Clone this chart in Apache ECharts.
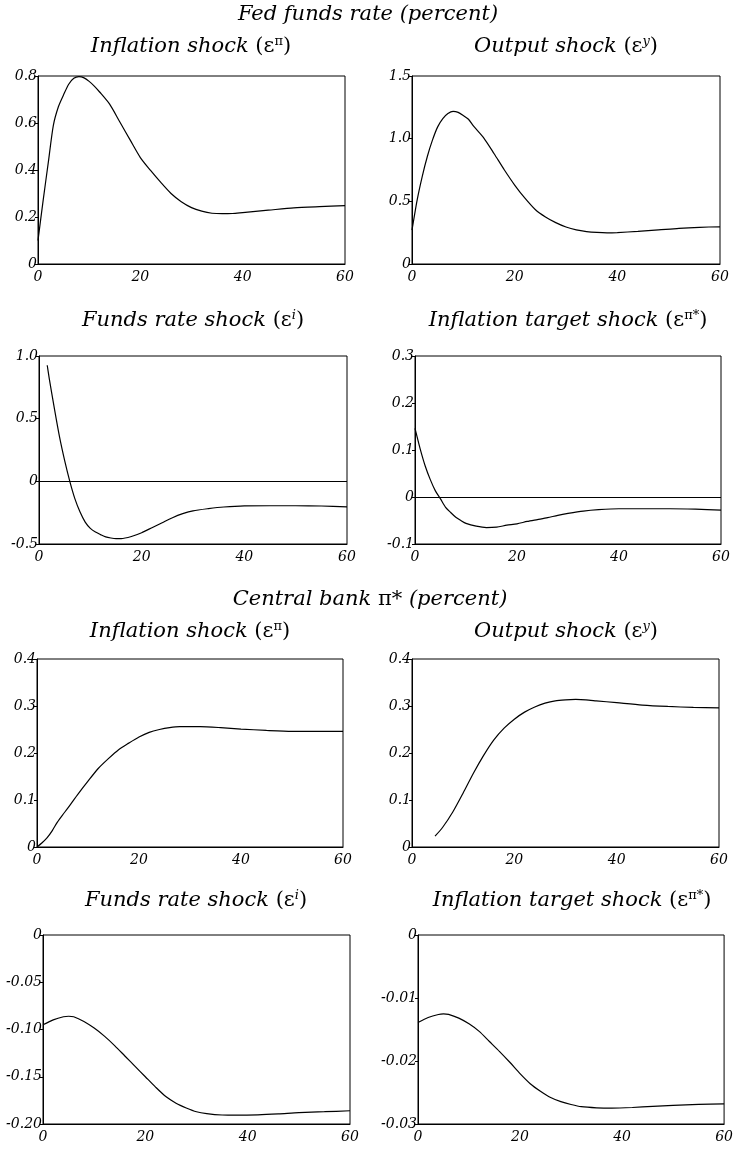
<!DOCTYPE html>
<html>
<head>
<meta charset="utf-8">
<script src="https://cdn.jsdelivr.net/npm/echarts@6/dist/echarts.min.js"></script>
<style>
html,body{margin:0;padding:0;background:#fff;}
#chart{width:736px;height:1150px;}
</style>
</head>
<body>
<div id="chart"></div>
<script>
// ---- Data ----
const xTickLabels = ['0', '20', '40', '60'];

// Fed funds rate (percent)
const ffInflX = [0,1,2,3,4,5,6,7,8,9,10,11,12,14,16,18,20,22,24,26,28,30,32,34,36,38,40,45,50,55,60];
const ffInflY = [0.10,0.27,0.43,0.59,0.67,0.72,0.765,0.79,0.797,0.792,0.777,0.757,0.733,0.68,0.604,0.528,0.453,0.398,0.347,0.30,0.265,0.24,0.225,0.216,0.214,0.215,0.219,0.229,0.239,0.244,0.248];
const ffOutX = [0,1,2,3,4,5,6,7,8,9,10,11,12,14,16,18,20,22,24,26,28,30,32,34,36,38,40,44,48,52,56,60];
const ffOutY = [0.27,0.51,0.70,0.86,0.99,1.094,1.16,1.20,1.218,1.21,1.185,1.155,1.10,1.005,0.88,0.75,0.63,0.525,0.435,0.375,0.33,0.295,0.272,0.259,0.252,0.249,0.251,0.26,0.272,0.285,0.293,0.297];
const ffFundsX = [1.6,2,3,4,5,6,7,8,9,10,11,12,13,14,15,16,18,20,22,24,26,28,30,33,36,40,45,50,55,60];
const ffFundsY = [0.926,0.82,0.58,0.354,0.165,0.0,-0.14,-0.245,-0.325,-0.375,-0.405,-0.425,-0.443,-0.452,-0.457,-0.457,-0.44,-0.41,-0.37,-0.33,-0.29,-0.258,-0.235,-0.218,-0.205,-0.196,-0.195,-0.195,-0.197,-0.203];
const ffTargetX = [0,1,2,3,4,5,6,7,8,9,10,12,14,16,18,20,22,24,26,28,30,33,36,40,45,50,55,60];
const ffTargetY = [0.146,0.103,0.066,0.037,0.013,-0.004,-0.022,-0.033,-0.043,-0.05,-0.056,-0.062,-0.065,-0.064,-0.06,-0.057,-0.052,-0.048,-0.044,-0.039,-0.035,-0.03,-0.027,-0.025,-0.025,-0.025,-0.026,-0.028];

// Central bank pi* (percent)
const cbInflX = [0,1,2,3,4,5,6,7,8,10,12,14,16,18,20,22,24,26,28,30,32,36,40,45,50,55,60];
const cbInflY = [0,0.009,0.02,0.035,0.053,0.068,0.082,0.097,0.112,0.14,0.167,0.188,0.207,0.221,0.234,0.244,0.25,0.254,0.256,0.256,0.256,0.254,0.251,0.248,0.246,0.246,0.246];
const cbOutX = [4.5,6,8,10,12,14,16,18,20,22,24,26,28,30,32,34,36,40,45,50,55,60];
const cbOutY = [0.023,0.042,0.075,0.115,0.157,0.195,0.228,0.253,0.272,0.287,0.298,0.306,0.311,0.313,0.314,0.313,0.311,0.307,0.302,0.299,0.297,0.296];
const cbFundsX = [0,2,4,5,6,8,10,12,14,16,18,20,22,24,26,28,30,32,35,38,42,46,50,55,60];
const cbFundsY = [-0.095,-0.0898,-0.0865,-0.086,-0.0865,-0.0915,-0.0985,-0.107,-0.117,-0.128,-0.139,-0.15,-0.161,-0.171,-0.178,-0.183,-0.187,-0.189,-0.1905,-0.1907,-0.1903,-0.1893,-0.188,-0.187,-0.186];
const cbTargetX = [0,2,4,5,6,8,10,12,14,16,18,20,22,24,26,28,30,32,35,38,42,46,50,55,60];
const cbTargetY = [-0.0139,-0.0131,-0.01262,-0.01253,-0.0126,-0.0132,-0.0141,-0.0153,-0.0169,-0.0185,-0.0202,-0.0220,-0.0236,-0.0248,-0.0258,-0.02645,-0.0269,-0.02725,-0.02743,-0.02748,-0.02738,-0.0272,-0.02703,-0.0269,-0.02682];

// Y tick labels per panel
const yTicks1 = ['0','0.2','0.4','0.6','0.8'];
const yTicks2 = ['0','0.5','1.0','1.5'];
const yTicks3 = ['-0.5','0','0.5','1.0'];
const yTicks4 = ['-0.1','0','0.1','0.2','0.3'];
const yTicks5 = ['0','0.1','0.2','0.3','0.4'];
const yTicks6 = ['0','0.1','0.2','0.3','0.4'];
const yTicks7 = ['-0.20','-0.15','-0.10','-0.05','0'];
const yTicks8 = ['-0.03','-0.02','-0.01','0'];

// ---- Layout ----
const panels = [
  {x: ffInflX, y: ffInflY, ticks: yTicks1, interval: 0.2, zero: false, grid: {left: 38, top: 76, width: 307, height: 188}},
  {x: ffOutX, y: ffOutY, ticks: yTicks2, interval: 0.5, zero: false, grid: {left: 412, top: 76, width: 308, height: 188}},
  {x: ffFundsX, y: ffFundsY, ticks: yTicks3, interval: 0.5, zero: true, grid: {left: 39, top: 356, width: 308, height: 188}},
  {x: ffTargetX, y: ffTargetY, ticks: yTicks4, interval: 0.1, zero: true, grid: {left: 415, top: 356, width: 306, height: 188}},
  {x: cbInflX, y: cbInflY, ticks: yTicks5, interval: 0.1, zero: false, grid: {left: 37, top: 659, width: 306, height: 188}},
  {x: cbOutX, y: cbOutY, ticks: yTicks6, interval: 0.1, zero: false, grid: {left: 412, top: 659, width: 307, height: 188}},
  {x: cbFundsX, y: cbFundsY, ticks: yTicks7, interval: 0.05, zero: false, grid: {left: 43, top: 935, width: 307, height: 189}},
  {x: cbTargetX, y: cbTargetY, ticks: yTicks8, interval: 0.01, zero: false, grid: {left: 418, top: 935, width: 308, height: 189}}
];

const SERIF = "'DejaVu Serif', serif";
const labelStyle = {color: '#000', fontFamily: SERIF, fontStyle: 'italic', fontSize: 14};

function labelFor(ticks) {
  return function (v) {
    for (const t of ticks) { if (Math.abs(parseFloat(t) - v) < 1e-9) return t; }
    return '';
  };
}

const grids = [], xAxes = [], yAxes = [], series = [];
panels.forEach((p, i) => {
  grids.push(Object.assign({show: true, borderColor: '#000', borderWidth: 1, backgroundColor: 'transparent'}, p.grid));
  xAxes.push({
    type: 'value', gridIndex: i, min: 0, max: 60, interval: 20,
    axisLine: {show: true, onZero: false, lineStyle: {color: '#000', width: 1}},
    axisTick: {show: false},
    splitLine: {show: false},
    axisLabel: Object.assign({margin: 6, formatter: labelFor(xTickLabels)}, labelStyle)
  });
  const yMin = parseFloat(p.ticks[0]), yMax = parseFloat(p.ticks[p.ticks.length - 1]);
  yAxes.push({
    type: 'value', gridIndex: i, min: yMin, max: yMax, interval: p.interval,
    axisLine: {show: true, onZero: false, lineStyle: {color: '#000', width: 1}},
    axisTick: {show: true, length: 3, lineStyle: {color: '#000'}},
    splitLine: {show: false},
    axisLabel: Object.assign({margin: 1, formatter: labelFor(p.ticks)}, labelStyle)
  });
  const s = {
    type: 'line', xAxisIndex: i, yAxisIndex: i,
    data: p.x.map((xv, k) => [xv, p.y[k]]),
    showSymbol: false, smooth: 0.25, silent: true,
    lineStyle: {color: '#000', width: 1.2},
    animation: false
  };
  if (p.zero) {
    s.markLine = {
      silent: true, symbol: 'none', label: {show: false},
      lineStyle: {color: '#000', width: 1, type: 'solid'},
      data: [{yAxis: 0}], animation: false
    };
  }
  series.push(s);
});

// ---- Titles ----
const FS = 21;
const rich = {
  it: {fontFamily: SERIF, fontStyle: 'italic', fontSize: FS, fill: '#000', color: '#000', verticalAlign: 'middle', lineHeight: 27},
  up: {fontFamily: SERIF, fontStyle: 'normal', fontSize: FS, fill: '#000', color: '#000', verticalAlign: 'middle', lineHeight: 27},
  sup: {fontFamily: SERIF, fontStyle: 'normal', fontSize: 13, fill: '#000', color: '#000', verticalAlign: 'top', padding: [2, 0, 0, 0]},
  supi: {fontFamily: SERIF, fontStyle: 'italic', fontSize: 13, fill: '#000', color: '#000', verticalAlign: 'top', padding: [2, 0, 0, 0]}
};
function txt(x, y, text) {
  return {type: 'text', x: x, y: y, silent: true,
    style: {text: text, rich: rich, align: 'center', verticalAlign: 'middle', fill: '#000', font: "italic 21px 'DejaVu Serif', serif"}};
}
const subInfl = '{it|Inflation shock }{up|(ε}{sup|π}{up|)}';
const subOut = '{it|Output shock }{up|(ε}{supi|y}{up|)}';
const subFunds = '{it|Funds rate shock }{up|(ε}{supi|i}{up|)}';
const subTarget = '{it|Inflation target shock }{up|(ε}{sup|π*}{up|)}';

const graphic = [
  txt(368, 15, '{it|Fed funds rate (percent)}'),
  txt(191, 47, subInfl),
  txt(566, 47, subOut),
  txt(193, 321, subFunds),
  txt(568, 321, subTarget),
  txt(370, 600, '{it|Central bank }{up|π*}{it| (percent)}'),
  txt(190, 632, subInfl),
  txt(566, 632, subOut),
  txt(196, 901, subFunds),
  txt(572, 901, subTarget)
];

const chart = echarts.init(document.getElementById('chart'), null, {renderer: 'canvas'});
chart.setOption({
  backgroundColor: '#fff',
  animation: false,
  grid: grids,
  xAxis: xAxes,
  yAxis: yAxes,
  series: series,
  graphic: graphic
});
</script>
</body>
</html>
